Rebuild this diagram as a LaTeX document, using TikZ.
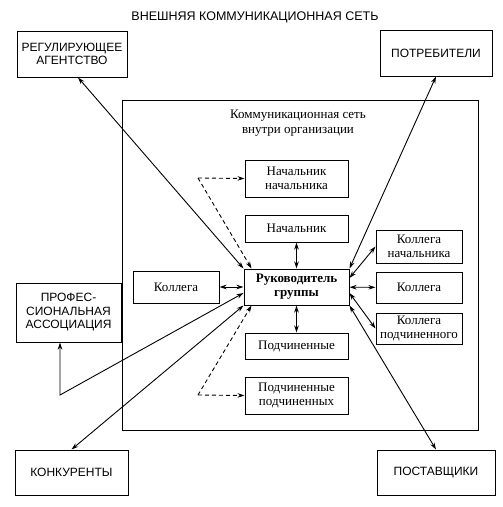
\documentclass[tikz,border=0pt]{standalone}
\usepackage{fontspec}
\setmainfont{Liberation Serif}
\setsansfont{Liberation Sans}
\usepackage{tikz}
\usetikzlibrary{positioning,arrows.meta}

\tikzset{
  outerbox/.style={draw, line width=1pt, rectangle, align=center, inner sep=2pt, font=\sffamily\fontsize{12}{13.5}\selectfont},
  innerbox/.style={draw, line width=1pt, rectangle, align=center, inner sep=1pt, minimum width=103pt, font=\fontsize{13}{14}\selectfont},
  link/.style={line width=0.9pt, {Stealth[length=7pt,width=4.5pt]}-{Stealth[length=7pt,width=4.5pt]}},
  dlink/.style={line width=0.9pt, dash pattern=on 4pt off 3pt, -{Stealth[length=7pt,width=4.5pt]}}
}

\begin{document}
\begin{tikzpicture}[x=1pt, y=-1pt]
\useasboundingbox (0,0) rectangle (503,507);

% external network
\node[font=\sffamily\fontsize{12.5}{14}\selectfont] (title) at (255,17) {ВНЕШНЯЯ КОММУНИКАЦИОННАЯ СЕТЬ};
\node[outerbox, minimum width=110pt, minimum height=46pt] (reg) at (72,54) {РЕГУЛИРУЮЩЕЕ\\АГЕНТСТВО};
\node[outerbox, minimum width=112pt, minimum height=46pt] (potr) at (436,53) {ПОТРЕБИТЕЛИ};
\node[outerbox, minimum width=105pt, minimum height=59pt] (prof) at (68.5,312.5) {ПРОФЕС-\\СИОНАЛЬНАЯ\\АССОЦИАЦИЯ};
\node[outerbox, minimum width=113pt, minimum height=45pt] (konk) at (71.5,472.5) {КОНКУРЕНТЫ};
\node[outerbox, minimum width=118pt, minimum height=45pt] (post) at (436,472.5) {ПОСТАВЩИКИ};

% network inside the organisation
\node[draw, line width=1pt, rectangle, minimum width=356pt, minimum height=330pt] (org) at (300,265) {};
\node[align=center, font=\fontsize{13}{15}\selectfont] (orgtitle) at (298,123) {Коммуникационная сеть\\внутри организации};

\node[innerbox, minimum height=37pt] (nachnach) at (296.5,178.5) {Начальник\\начальника};
\node[innerbox, minimum height=27pt] (nach) at (296.5,228.5) {Начальник};
\node[innerbox, minimum width=105pt, minimum height=36pt, font=\bfseries\fontsize{13}{14}\selectfont] (ruk) at (296.5,287) {Руководитель\\группы};
\node[innerbox, minimum height=26pt] (podch) at (296.5,346) {Подчиненные};
\node[innerbox, minimum height=37pt] (podpod) at (296.5,395.5) {Подчиненные\\подчиненных};

\node[innerbox, minimum width=86pt, minimum height=32pt] (kolL) at (176,287) {Коллега};
\node[innerbox, minimum width=86pt, minimum height=33pt] (kolNach) at (419,246.5) {Коллега\\начальника};
\node[innerbox, minimum width=86pt, minimum height=31pt] (kolR) at (419,287.5) {Коллега};
\node[innerbox, minimum width=86pt, minimum height=31pt] (kolPod) at (419,328.5) {Коллега\\подчиненного};

\coordinate (dtop) at (198,178);
\coordinate (dbot) at (198,395);
\coordinate (pcorner) at (60,395);

% links inside
\draw[link] (nach) -- (ruk);
\draw[link] (ruk) -- (podch);
\draw[link] (kolL) -- (ruk);
\draw[link] (ruk) -- (kolR);
\draw[link] ([yshift=9pt]ruk.east) -- (kolNach.west);
\draw[link] ([yshift=-6pt]ruk.east) -- (kolPod.west);
\draw[dlink] (dtop) -- (nachnach.west);
\draw[dlink] (dtop) -- ([xshift=8pt]ruk.north west);
\draw[dlink] (dbot) -- (podpod.west);
\draw[dlink] (dbot) -- ([xshift=8pt]ruk.south west);

% links outside
\draw[link] ([xshift=6pt]reg.south) -- (ruk.north west);
\draw[link] (potr.south) -- (ruk.north east);
\draw[link] (prof.south -| pcorner) -- (pcorner) -- ([yshift=-6pt]ruk.west);
\draw[link] (konk.north) -- (ruk.south west);
\draw[link] (post.north) -- (ruk.south east);
\end{tikzpicture}
\end{document}
